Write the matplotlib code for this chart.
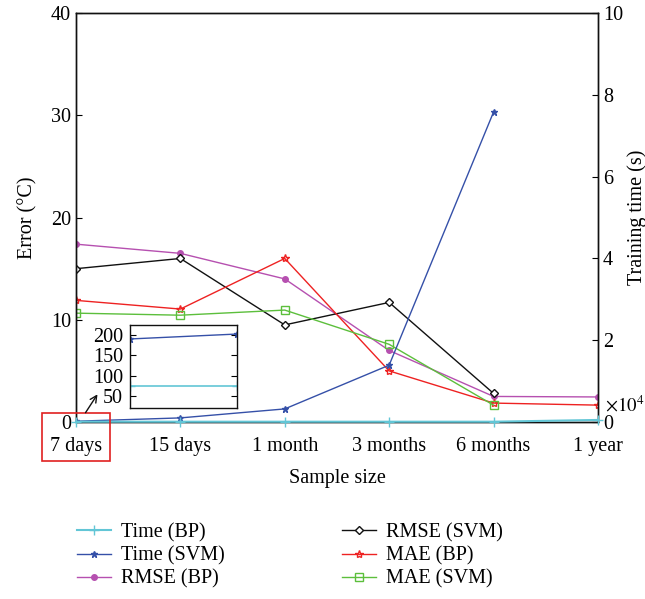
import matplotlib
matplotlib.use("Agg")
import matplotlib.pyplot as plt
from matplotlib.patches import Rectangle

plt.rcParams['font.family'] = ['Liberation Serif', 'DejaVu Serif']
plt.rcParams['mathtext.fontset'] = 'stix'

categories = ["7 days", "15 days", "1 month", "3 months", "6 months", "1 year"]
x = list(range(len(categories)))

# Errors (°C)
rmse_bp = [17.4, 16.5, 14.0, 7.0, 2.5, 2.45]
rmse_svm = [15.0, 16.0, 9.5, 11.7, 2.8]
mae_bp = [11.9, 11.05, 16.0, 5.0, 1.85, 1.65]
mae_svm = [10.65, 10.45, 10.95, 7.6, 1.65]
# Training time (×10^4 s)
time_bp = [0.0075, 0.0075, 0.0075, 0.0075, 0.0075, 0.05]
time_svm = [0.019, 0.10, 0.32, 1.39, 7.58]
# Inset (seconds)
inset_time_bp = [75, 75]
inset_time_svm = [190, 202]
inset_x = [0.0, 0.015]

c_tbp = '#62c6d6'
c_tsvm = '#3550a8'
c_rbp = '#b650b0'
c_rsvm = '#111111'
c_mbp = '#ee2222'
c_msvm = '#5cbf3c'

fig = plt.figure(figsize=(6.45, 5.99), dpi=100)
ax = fig.add_axes([0.1178, 0.2955, 0.8092, 0.6825])
ax2 = ax.twinx()

fs = 14.5
l_rbp, = ax.plot(x, rmse_bp, color=c_rbp, marker='o', ms=4, lw=1, label='RMSE (BP)')
l_rsvm, = ax.plot(x[:5], rmse_svm, color=c_rsvm, marker='D', ms=4, mfc='white', lw=1, label='RMSE (SVM)')
l_mbp, = ax.plot(x, mae_bp, color=c_mbp, marker='*', ms=6, mfc='none', lw=1, label='MAE (BP)')
l_msvm, = ax.plot(x[:5], mae_svm, color=c_msvm, marker='s', ms=6, mfc='none', lw=1, label='MAE (SVM)')

l_tsvm, = ax2.plot(x[:5], time_svm, color=c_tsvm, marker='*', ms=5, lw=1, label='Time (SVM)')
l_tbp, = ax2.plot(x, time_bp, color=c_tbp, marker='+', ms=7, lw=1.5, label='Time (BP)', clip_on=False, zorder=5)

ax.set_xlim(0, 5)
ax.set_ylim(0, 40)
ax2.set_ylim(0, 10)
ax.set_yticks([0, 10, 20, 30, 40])
ax2.set_yticks([0, 2, 4, 6, 8, 10])
ax.set_xticks(x)
ax.set_xticklabels(categories)
ax.tick_params(direction='in', labelsize=fs, length=4, top=False)
ax.tick_params(axis='x', length=0, pad=11)
ax2.tick_params(direction='in', labelsize=fs, length=4)
ax.set_xlabel('Sample size', fontsize=fs, labelpad=9)
ax.set_ylabel('Error (°C)', fontsize=fs, labelpad=10)
ax2.set_ylabel('Training time (s)', fontsize=fs, labelpad=3)
for a in (ax, ax2):
    for s in a.spines.values():
        s.set_linewidth(1.0)
        s.set_color('#111111')

fig.text(605 / 645, 1 - 405 / 599, r'$\times 10^4$', fontsize=13.5, va='center', ha='left')

# Inset
axi = fig.add_axes([130 / 645, 1 - 408 / 599, 107 / 645, 83 / 599])
axi.plot(inset_x, inset_time_svm, color=c_tsvm, marker='*', ms=5, lw=1, clip_on=True)
axi.plot(inset_x, inset_time_bp, color=c_tbp, marker='+', ms=7, lw=1.2)
axi.set_xlim(0, 0.015)
axi.set_ylim(22, 224)
axi.set_yticks([50, 100, 150, 200])
axi.set_xticks([])
axi.tick_params(direction='in', labelsize=fs, length=4, right=True, pad=5)
for s in axi.spines.values():
    s.set_linewidth(1.0)
    s.set_color('#111111')

# Red box and arrow
fig.add_artist(Rectangle((42 / 645, 1 - 461 / 599), 68 / 645, 48 / 599,
                         transform=fig.transFigure, fill=False, ec='#e02020', lw=1.2))
fig.add_artist(matplotlib.patches.FancyArrowPatch(
    (84 / 645, 1 - 415 / 599), (99 / 645, 1 - 392 / 599),
    transform=fig.transFigure, arrowstyle='->', mutation_scale=12, lw=1, color='#111111'))

handles = [l_tbp, l_tsvm, l_rbp, l_rsvm, l_mbp, l_msvm]
fig.legend(handles, [h.get_label() for h in handles], ncol=2, loc='upper left',
           bbox_to_anchor=(59 / 645, 1 - 505 / 599), frameon=False, fontsize=fs,
           handlelength=1.7, handletextpad=0.5, columnspacing=5.8, labelspacing=0.2)

fig.savefig('out.png', dpi=100)
